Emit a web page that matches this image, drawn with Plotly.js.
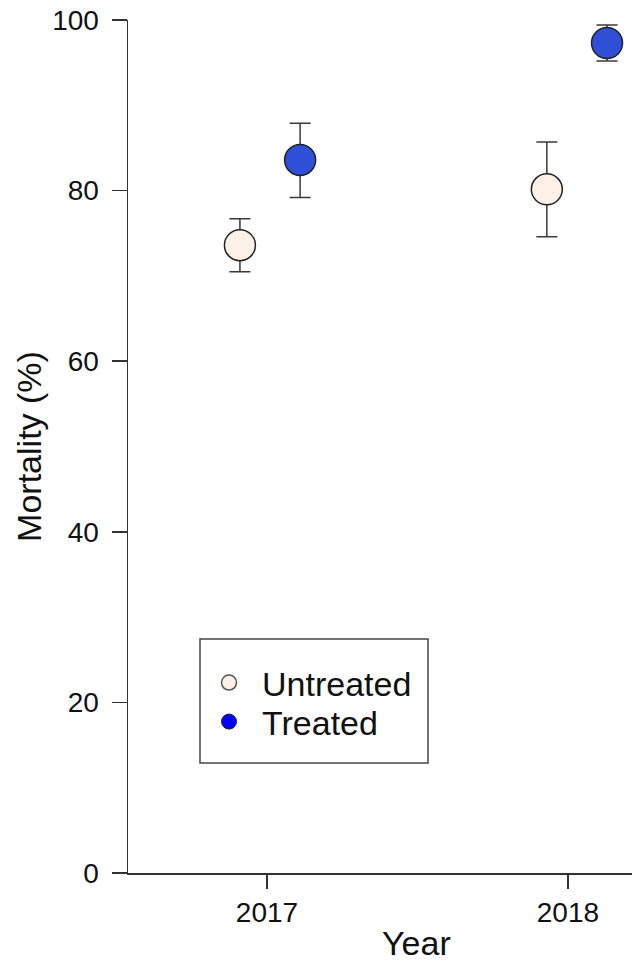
<!DOCTYPE html>
<html>
<head>
<meta charset="utf-8">
<script src="https://cdn.plot.ly/plotly-3.0.1.min.js"></script>
<style>html,body{margin:0;padding:0;background:#fff;overflow:hidden;}</style>
</head>
<body>
<div id="chart" style="width:632px;height:961px;"></div>
<script>
// Data
const untreatedX = [2016.91, 2017.93];
const untreatedY = [73.6, 80.15];
const untreatedUpper = [76.7, 85.7];
const untreatedLower = [70.5, 74.6];

const treatedX = [2017.11, 2018.13];
const treatedY = [83.6, 97.3];
const treatedUpper = [87.9, 99.4];
const treatedLower = [79.2, 95.2];

const yTicks = [0, 20, 40, 60, 80, 100];
const xTicks = [2017, 2018];
const xTickLabels = ['2017', '2018'];

const plus = (u, y) => u.map((v, i) => v - y[i]);
const minus = (l, y) => l.map((v, i) => y[i] - v);

const font = 'Liberation Sans, Arial, sans-serif';

const traces = [
  {
    type: 'scatter', mode: 'markers', name: 'Untreated', showlegend: false,
    x: untreatedX, y: untreatedY,
    error_y: {type: 'data', symmetric: false, array: plus(untreatedUpper, untreatedY),
      arrayminus: minus(untreatedLower, untreatedY), color: '#3a3a3a', thickness: 1.5, width: 10.5},
    marker: {size: 31, color: '#fdf0e7', line: {color: '#222', width: 1.5}}
  },
  {
    type: 'scatter', mode: 'markers', name: 'Treated', showlegend: false,
    x: treatedX, y: treatedY,
    error_y: {type: 'data', symmetric: false, array: plus(treatedUpper, treatedY),
      arrayminus: minus(treatedLower, treatedY), color: '#3a3a3a', thickness: 1.5, width: 10.5},
    marker: {size: 31, color: '#2f4fd6', line: {color: '#222', width: 1.5}}
  },
  {
    type: 'scatter', mode: 'markers', name: 'Untreated', x: [null], y: [null], legend: 'legend',
    marker: {size: 15, color: '#fdf0e7', line: {color: '#555', width: 1.5}}
  },
  {
    type: 'scatter', mode: 'markers', name: 'Treated', x: [null], y: [null], legend: 'legend2',
    marker: {size: 15, color: '#0000ff', line: {color: '#222', width: 1}}
  }
];

const legendCommon = {
  xref: 'paper', yref: 'paper', xanchor: 'left', yanchor: 'middle',
  borderwidth: 0, bgcolor: 'rgba(0,0,0,0)', itemwidth: 56, itemsizing: 'trace',
  font: {family: font, size: 34, color: '#111'}
};

const layout = {
  width: 632, height: 961,
  margin: {l: 128, r: 0, t: 20, b: 88},
  paper_bgcolor: '#fff', plot_bgcolor: '#fff',
  font: {family: font, color: '#111'},
  showlegend: true,
  legend: Object.assign({}, legendCommon, {x: (196 - 128) / 504, y: (873 - 683) / 853}),
  legend2: Object.assign({}, legendCommon, {x: (196 - 128) / 504, y: (873 - 722) / 853}),
  shapes: [
    {type: 'rect', xref: 'paper', yref: 'paper', layer: 'below',
     x0: (200 - 128) / 504, x1: (428 - 128) / 504,
     y0: (873 - 763) / 853, y1: (873 - 639) / 853,
     line: {color: '#444', width: 1.5}, fillcolor: '#fff'}
  ],
  xaxis: {
    range: [2016.538, 2018.213],
    tickvals: xTicks, ticktext: xTickLabels,
    ticks: 'outside', ticklen: 14, tickwidth: 1.5, tickcolor: '#333',
    showline: true, linecolor: '#333', linewidth: 1.5,
    showgrid: false, zeroline: false,
    tickfont: {family: font, size: 28, color: '#111'}
  },
  yaxis: {
    range: [0, 100],
    tickvals: yTicks,
    ticks: 'outside', ticklen: 15, tickwidth: 1.5, tickcolor: '#333',
    showline: true, linecolor: '#333', linewidth: 1.5,
    showgrid: false, zeroline: false, ticklabelstandoff: 7,
    tickfont: {family: font, size: 28, color: '#111'},
    title: {text: 'Mortality (%)', font: {family: font, size: 34, color: '#111'}, standoff: 0}
  },
  annotations: [
    {text: 'Year', xref: 'paper', yref: 'paper', x: 0.573, y: 0, yshift: -49,
     xanchor: 'center', yanchor: 'top', showarrow: false,
     font: {family: font, size: 34, color: '#111'}}
  ]
};

Plotly.newPlot('chart', traces, layout, {displayModeBar: false, staticPlot: true});
</script>
</body>
</html>
